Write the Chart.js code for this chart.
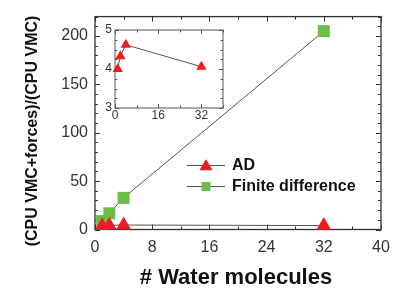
<!DOCTYPE html>
<html><head><meta charset="utf-8">
<script src="https://cdn.jsdelivr.net/npm/chart.js@4/dist/chart.umd.min.js"></script>
<style>
html,body{margin:0;padding:0;background:#fff;}
#wrap{position:relative;width:414px;height:298px;overflow:hidden;}
#main{position:absolute;left:0;top:0;}
#inset{position:absolute;left:95px;top:18px;}
</style></head><body>
<div id="wrap"><canvas id="main" width="414" height="298"></canvas><canvas id="inset" width="140" height="110"></canvas></div>
<script>
// ---- data ----
const waterMolecules = [1, 2, 4, 32];
const adRatio = [4.0, 4.33, 4.62, 4.06];
const fdRatio = [8.7, 16.7, 32.7, 205];
const seriesNames = ['AD', 'Finite difference'];
const xTicksMain = [0, 8, 16, 24, 32, 40];
const yTicksMain = [0, 50, 100, 150, 200];
const xTicksInset = [0, 16, 32];
const yTicksInset = [3, 4, 5];
const xTitle = '# Water molecules';
const yTitle = '(CPU VMC+forces)/(CPU VMC)';

// ---- styles ----
const FONT = "'Liberation Sans', Arial, sans-serif";
const RED = '#ec1c24';
const GREEN = '#6cbd45';
const LINE = '#555555';

function framePlugin(o) {
  return {
    id: 'frame',
    beforeDatasetsDraw(chart) {
      const {ctx, chartArea: a, scales: {x, y}} = chart;
      ctx.save();
      ctx.strokeStyle = o.color; ctx.lineWidth = o.width;
      ctx.strokeRect(a.left, a.top, a.right - a.left, a.bottom - a.top);
      ctx.beginPath();
      const nx = Math.round((x.max - x.min) / o.xMinor);
      for (let i = 0; i <= nx; i++) {
        const v = x.min + i * o.xMinor;
        const px = Math.round(x.getPixelForValue(v)) + 0.5;
        const major = Math.abs(v / o.xMajor - Math.round(v / o.xMajor)) < 1e-6;
        const L = major ? o.major : o.minor;
        ctx.moveTo(px, a.bottom); ctx.lineTo(px, a.bottom - L);
        ctx.moveTo(px, a.top); ctx.lineTo(px, a.top + L);
      }
      const ny = Math.round((y.max - y.min) / o.yMinor);
      for (let i = 0; i <= ny; i++) {
        const v = y.min + i * o.yMinor;
        const py = Math.round(y.getPixelForValue(v)) + 0.5;
        const major = Math.abs((v - y.min) / o.yMajor - Math.round((v - y.min) / o.yMajor)) < 1e-6;
        const L = major ? o.major : o.minor;
        ctx.moveTo(a.left, py); ctx.lineTo(a.left + L, py);
        ctx.moveTo(a.right, py); ctx.lineTo(a.right - L, py);
      }
      ctx.lineWidth = 1;
      ctx.stroke();
      ctx.restore();
    }
  };
}

function drawTri(ctx, cx, cy, r, color) {
  ctx.beginPath();
  ctx.moveTo(cx, cy - r);
  ctx.lineTo(cx + r * Math.sqrt(3) / 2, cy + r / 2);
  ctx.lineTo(cx - r * Math.sqrt(3) / 2, cy + r / 2);
  ctx.closePath(); ctx.fillStyle = color; ctx.fill();
}

const textPlugin = {
  id: 'texts',
  afterDraw(chart) {
    const ctx = chart.ctx;
    ctx.save();
    ctx.fillStyle = '#111';
    // y title
    ctx.save();
    ctx.translate(33, 131);
    ctx.rotate(-Math.PI / 2);
    ctx.font = 'bold 16px ' + FONT;
    ctx.textAlign = 'center'; ctx.textBaseline = 'middle';
    ctx.fillText(yTitle, 0, 0);
    ctx.restore();
    // x title
    ctx.font = 'bold 22px ' + FONT;
    ctx.textAlign = 'center'; ctx.textBaseline = 'alphabetic';
    ctx.fillText(xTitle, 236, 284);
    // legend
    const rows = [165, 186];
    chart.data.datasets.forEach((ds, i) => {
      const yy = rows[i] + 0.5;
      ctx.strokeStyle = LINE; ctx.lineWidth = 1;
      ctx.beginPath(); ctx.moveTo(187, yy); ctx.lineTo(225, yy); ctx.stroke();
      if (ds.pointStyle === 'triangle') drawTri(ctx, 206, yy + 1, 7.5, ds.pointBackgroundColor);
      else { ctx.fillStyle = ds.pointBackgroundColor; ctx.fillRect(201.5, yy - 4.5, 9, 9); }
      ctx.fillStyle = '#111';
      ctx.font = 'bold 16px ' + FONT;
      ctx.textAlign = 'left'; ctx.textBaseline = 'middle';
      ctx.fillText(ds.label, 232, rows[i] + 1);
    });
    ctx.restore();
  }
};

new Chart(document.getElementById('main'), {
  type: 'scatter',
  data: {
    datasets: [
      { label: seriesNames[0], data: waterMolecules.map((x, i) => ({x, y: adRatio[i]})),
        showLine: true, borderColor: LINE, borderWidth: 1, pointStyle: 'triangle', pointRadius: 8.5,
        pointBackgroundColor: RED, pointBorderColor: RED, pointBorderWidth: 0, clip: false },
      { label: seriesNames[1], data: waterMolecules.map((x, i) => ({x, y: fdRatio[i]})),
        showLine: true, borderColor: LINE, borderWidth: 1, pointStyle: 'rect', pointRadius: 8.5,
        pointBackgroundColor: GREEN, pointBorderColor: GREEN, pointBorderWidth: 0, clip: false }
    ]
  },
  options: {
    responsive: false, animation: false, events: [],
    layout: { padding: { top: 12, right: 33, left: 0, bottom: 0 } },
    plugins: { legend: { display: false }, tooltip: { enabled: false } },
    scales: {
      x: { type: 'linear', min: 0, max: 40,
        afterBuildTicks: s => { s.ticks = xTicksMain.map(v => ({value: v})); },
        afterFit: s => { s.height = 68.5; },
        grid: { display: false, drawTicks: false }, border: { display: false },
        ticks: { font: { family: FONT, size: 16 }, color: '#333', padding: 8, maxRotation: 0, autoSkip: false } },
      y: { type: 'linear', min: 0, max: 220,
        afterBuildTicks: s => { s.ticks = yTicksMain.map(v => ({value: v})); },
        afterFit: s => { s.width = 95; },
        grid: { display: false, drawTicks: false }, border: { display: false },
        ticks: { font: { family: FONT, size: 16 }, color: '#333', padding: 7, autoSkip: false } }
    }
  },
  plugins: [framePlugin({color: '#333', width: 1.3, xMinor: 4, xMajor: 8, yMinor: 10, yMajor: 50, major: 5, minor: 3}), textPlugin]
});

new Chart(document.getElementById('inset'), {
  type: 'scatter',
  data: {
    datasets: [
      { label: seriesNames[0], data: waterMolecules.map((x, i) => ({x, y: adRatio[i]})),
        showLine: true, borderColor: LINE, borderWidth: 1, pointStyle: 'triangle', pointRadius: 6,
        pointBackgroundColor: RED, pointBorderColor: RED, pointBorderWidth: 0, clip: false }
    ]
  },
  options: {
    responsive: false, animation: false, events: [],
    layout: { padding: { top: 12, right: 12, left: 0, bottom: 0 } },
    plugins: { legend: { display: false }, tooltip: { enabled: false } },
    scales: {
      x: { type: 'linear', min: 0, max: 40,
        afterBuildTicks: s => { s.ticks = xTicksInset.map(v => ({value: v})); },
        afterFit: s => { s.height = 20; },
        grid: { display: false, drawTicks: false }, border: { display: false },
        ticks: { font: { family: FONT, size: 12 }, color: '#333', padding: 0, maxRotation: 0, autoSkip: false } },
      y: { type: 'linear', min: 3, max: 5,
        afterBuildTicks: s => { s.ticks = yTicksInset.map(v => ({value: v})); },
        afterFit: s => { s.width = 20; },
        grid: { display: false, drawTicks: false }, border: { display: false },
        ticks: { font: { family: FONT, size: 12 }, color: '#333', padding: 3, autoSkip: false } }
    }
  },
  plugins: [framePlugin({color: '#555', width: 1, xMinor: 8, xMajor: 16, yMinor: 0.25, yMajor: 1, major: 4, minor: 2.5})]
});
</script>
</body></html>
